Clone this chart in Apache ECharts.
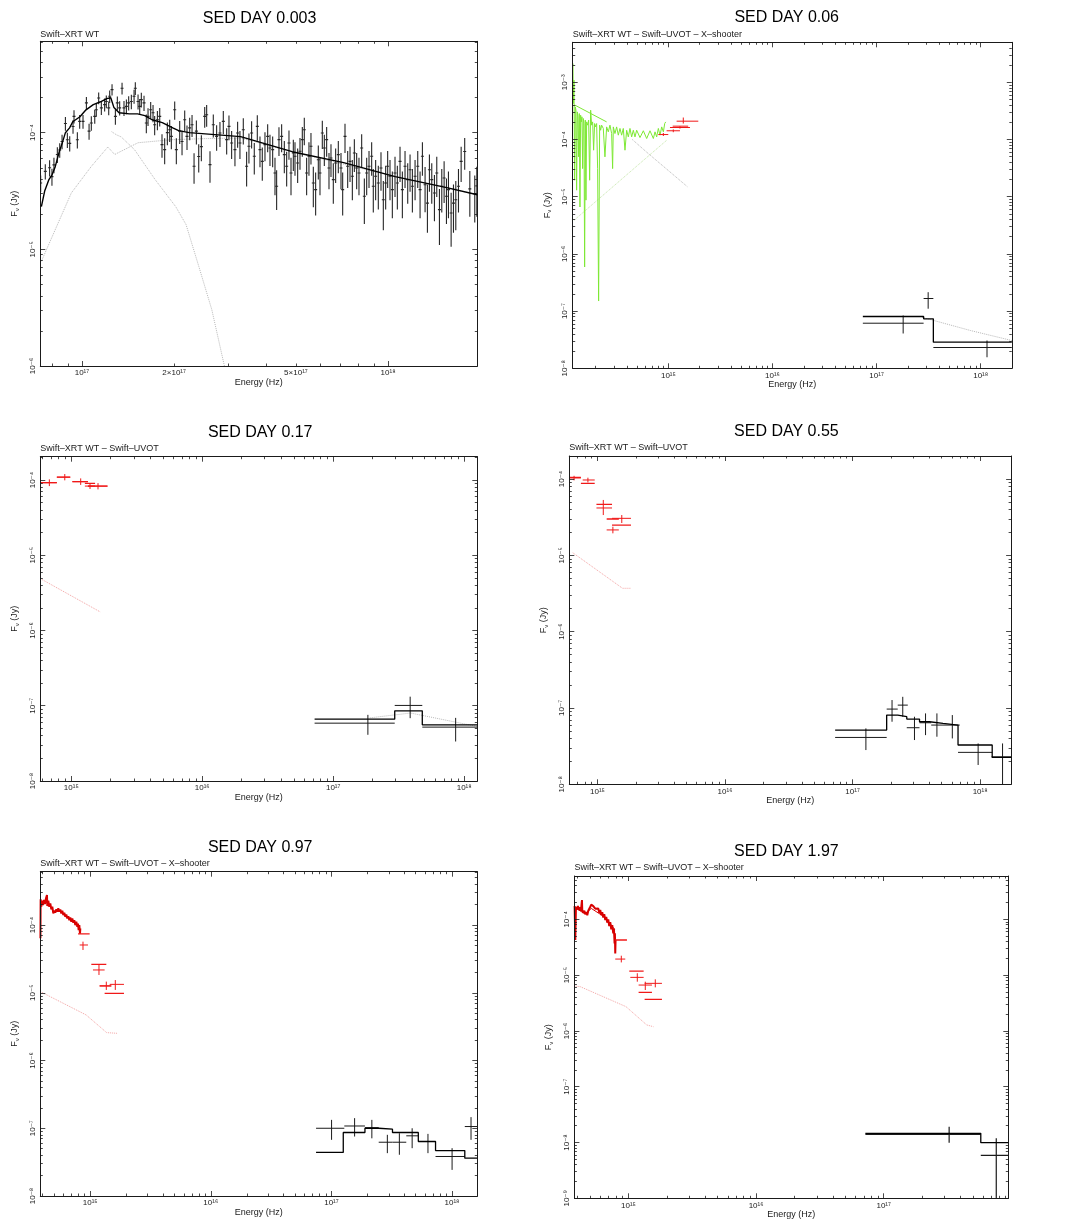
<!DOCTYPE html>
<html>
<head>
<meta charset="utf-8">
<title>SED</title>
<script src="https://cdn.jsdelivr.net/npm/echarts@6.0.0/dist/echarts.min.js"></script>
<style>
  html, body { margin: 0; padding: 0; background: #fff; }
  #sed { width: 1080px; height: 1230px; }
</style>
</head>
<body>
<div id="sed"></div>
<script>
// ---------- panel 1 : SED DAY 0.003 ----------
var p1XRange = [7.31e16, 1.957e18];
var p1YRange = [1e-6, 6.07e-4];
var p1XLabels = [1e17, 2e17, 5e17, 1e18];
var p1YLabels = [1e-6, 1e-5, 1e-4];
// XRT WT points: [nu, F, err]
var p1Points = [
  [7.33e16, 3.7e-5, 0.6e-5], [7.59e16, 4.66e-5, 0.7e-5], [7.84e16, 5.0e-5, 0.8e-5], [7.98e16, 4.2e-5, 0.7e-5],
  [8.10e16, 5.3e-5, 0.8e-5], [8.31e16, 6.5e-5, 1.0e-5], [8.46e16, 7.1e-5, 1.0e-5], [8.61e16, 8.4e-5, 1.2e-5],
  [8.83e16, 1.2e-4, 1.6e-5], [8.96e16, 8.7e-5, 1.3e-5], [9.12e16, 8.1e-5, 1.2e-5], [9.35e16, 1.13e-4, 1.5e-5],
  [9.42e16, 1.38e-4, 1.8e-5], [9.66e16, 8.7e-5, 1.4e-5], [9.83e16, 1.25e-4, 1.7e-5], [1.008e17, 1.25e-4, 1.7e-5],
  [1.034e17, 1.8e-4, 2.2e-5], [1.055e17, 1.03e-4, 1.6e-5], [1.073e17, 1.21e-4, 1.7e-5], [1.101e17, 1.38e-4, 1.9e-5],
  [1.114e17, 1.57e-4, 2.0e-5], [1.134e17, 1.98e-4, 2.3e-5], [1.157e17, 1.63e-4, 2.1e-5], [1.186e17, 1.74e-4, 2.2e-5],
  [1.201e17, 1.85e-4, 2.3e-5], [1.223e17, 1.63e-4, 2.2e-5], [1.232e17, 2.05e-4, 2.5e-5], [1.254e17, 2.34e-4, 2.6e-5],
  [1.286e17, 1.38e-4, 2.1e-5], [1.305e17, 1.8e-4, 2.4e-5], [1.328e17, 1.63e-4, 2.3e-5], [1.352e17, 2.4e-4, 2.8e-5],
  [1.372e17, 1.63e-4, 2.4e-5], [1.397e17, 1.68e-4, 2.4e-5], [1.421e17, 1.8e-4, 2.5e-5], [1.450e17, 1.85e-4, 2.6e-5],
  [1.480e17, 2.05e-4, 2.8e-5], [1.494e17, 2.4e-4, 3.0e-5], [1.525e17, 1.85e-4, 2.7e-5], [1.544e17, 1.68e-4, 2.6e-5],
  [1.563e17, 1.92e-4, 2.8e-5], [1.595e17, 1.8e-4, 2.7e-5], [1.623e17, 1.21e-4, 2.2e-5], [1.644e17, 1.38e-4, 2.4e-5],
  [1.677e17, 1.57e-4, 2.6e-5], [1.707e17, 1.48e-4, 2.5e-5], [1.728e17, 1.17e-4, 2.2e-5], [1.764e17, 1.29e-4, 2.4e-5],
  [1.795e17, 1.38e-4, 2.5e-5], [1.826e17, 7.9e-5, 1.8e-5], [1.863e17, 7.15e-5, 1.8e-5], [1.901e17, 1.0e-4, 2.2e-5],
  [1.935e17, 1.06e-4, 2.3e-5], [1.959e17, 9.3e-5, 2.1e-5], [2.009e17, 1.57e-4, 2.8e-5], [2.034e17, 7.15e-5, 1.8e-5],
  [2.086e17, 1.03e-4, 2.3e-5], [2.123e17, 8.4e-5, 2.0e-5], [2.166e17, 1.29e-4, 2.6e-5], [2.204e17, 9.3e-5, 2.2e-5],
  [2.249e17, 1.1e-4, 2.4e-5], [2.289e17, 1.17e-4, 2.5e-5], [2.324e17, 5.15e-5, 1.5e-5], [2.365e17, 1.03e-4, 2.4e-5],
  [2.407e17, 6.25e-5, 1.7e-5], [2.455e17, 7.6e-5, 1.9e-5], [2.518e17, 1.38e-4, 2.8e-5],
  [2.555e17, 1.425e-4, 3.0e-5], [2.620e17, 5.32e-5, 1.6e-5], [2.686e17, 1.17e-4, 2.6e-5], [2.754e17, 9.3e-5, 2.3e-5],
  [2.824e17, 9.93e-5, 2.4e-5], [2.896e17, 1.25e-4, 2.8e-5], [2.970e17, 8.71e-5, 2.2e-5], [3.022e17, 1.133e-4, 2.7e-5],
  [3.083e17, 8.15e-5, 2.2e-5], [3.161e17, 7.15e-5, 2.0e-5], [3.225e17, 9.93e-5, 2.5e-5], [3.282e17, 8.15e-5, 2.2e-5],
  [3.366e17, 1.06e-4, 2.7e-5], [3.451e17, 5.15e-5, 1.7e-5], [3.512e17, 7.64e-5, 2.2e-5], [3.583e17, 9.93e-5, 2.6e-5],
  [3.656e17, 6.27e-5, 1.9e-5], [3.740e17, 1.133e-4, 2.8e-5], [3.816e17, 7.15e-5, 2.1e-5], [3.883e17, 5.68e-5, 1.8e-5],
  [3.962e17, 7.9e-5, 2.2e-5], [4.043e17, 9.3e-5, 2.5e-5], [4.114e17, 7.38e-5, 2.2e-5], [4.198e17, 7.15e-5, 2.1e-5],
  [4.272e17, 4.51e-5, 1.6e-5], [4.325e17, 3.47e-5, 1.3e-5], [4.402e17, 8.71e-5, 2.4e-5], [4.491e17, 9.3e-5, 2.5e-5],
  [4.583e17, 6.48e-5, 2.0e-5], [4.664e17, 5.15e-5, 1.7e-5], [4.746e17, 8.15e-5, 2.3e-5], [4.819e17, 4.51e-5, 1.6e-5],
  [4.904e17, 6.7e-5, 2.0e-5], [4.966e17, 6.27e-5, 2.0e-5], [5.066e17, 5.5e-5, 1.8e-5], [5.156e17, 6.92e-5, 2.1e-5],
  [5.247e17, 8.71e-5, 2.5e-5], [5.326e17, 1.06e-4, 2.8e-5], [5.420e17, 4.51e-5, 1.6e-5], [5.516e17, 6.27e-5, 2.0e-5],
  [5.600e17, 7.64e-5, 2.3e-5], [5.700e17, 3.70e-5, 1.4e-5], [5.800e17, 3.25e-5, 1.3e-5], [5.918e17, 5.86e-5, 1.9e-5],
  [5.993e17, 4.51e-5, 1.6e-5], [6.099e17, 9.93e-5, 2.7e-5], [6.192e17, 7.38e-5, 2.2e-5], [6.301e17, 8.71e-5, 2.5e-5],
  [6.413e17, 4.98e-5, 1.7e-5], [6.510e17, 6.07e-5, 1.9e-5], [6.625e17, 3.96e-5, 1.5e-5], [6.742e17, 5.5e-5, 1.8e-5],
  [6.879e17, 6.48e-5, 2.0e-5], [7.019e17, 4.98e-5, 1.7e-5], [7.108e17, 3.25e-5, 1.3e-5], [7.234e17, 9.3e-5, 2.6e-5],
  [7.381e17, 5.15e-5, 1.8e-5], [7.512e17, 5.68e-5, 1.9e-5], [7.645e17, 4.23e-5, 1.6e-5], [7.761e17, 6.7e-5, 2.1e-5],
  [7.897e17, 4.98e-5, 1.7e-5], [8.036e17, 4.51e-5, 1.6e-5], [8.200e17, 7.38e-5, 2.3e-5], [8.367e17, 2.85e-5, 1.2e-5],
  [8.515e17, 4.51e-5, 1.6e-5], [8.666e17, 5.15e-5, 1.8e-5], [8.840e17, 6.27e-5, 2.0e-5], [8.950e17, 3.47e-5, 1.4e-5],
  [9.109e17, 4.23e-5, 1.6e-5], [9.294e17, 3.70e-5, 1.5e-5], [9.483e17, 4.98e-5, 1.8e-5], [9.651e17, 2.66e-5, 1.2e-5],
  [9.822e17, 3.70e-5, 1.5e-5], [9.971e17, 5.15e-5, 1.8e-5], [1.0148e18, 4.23e-5, 1.6e-5], [1.0328e18, 3.25e-5, 1.4e-5],
  [1.0538e18, 4.51e-5, 1.7e-5], [1.0725e18, 3.70e-5, 1.5e-5], [1.0943e18, 5.68e-5, 1.9e-5], [1.1137e18, 3.25e-5, 1.4e-5],
  [1.1363e18, 5.15e-5, 1.8e-5], [1.1595e18, 3.96e-5, 1.5e-5], [1.1800e18, 4.81e-5, 1.7e-5], [1.2009e18, 3.47e-5, 1.4e-5],
  [1.2254e18, 4.23e-5, 1.6e-5], [1.2503e18, 5.15e-5, 1.8e-5], [1.2724e18, 3.25e-5, 1.4e-5], [1.2950e18, 6.27e-5, 2.0e-5],
  [1.3213e18, 3.58e-5, 1.5e-5], [1.3447e18, 2.49e-5, 1.1e-5], [1.3651e18, 4.81e-5, 1.7e-5], [1.3893e18, 3.96e-5, 1.5e-5],
  [1.4176e18, 3.04e-5, 1.3e-5], [1.4427e18, 4.51e-5, 1.7e-5], [1.4720e18, 2.19e-5, 1.1e-5], [1.4981e18, 3.47e-5, 1.4e-5],
  [1.5247e18, 4.09e-5, 1.6e-5], [1.5517e18, 2.85e-5, 1.2e-5], [1.5752e18, 3.25e-5, 1.4e-5], [1.6072e18, 2.05e-5, 1.0e-5],
  [1.6358e18, 2.49e-5, 1.1e-5], [1.6647e18, 2.66e-5, 1.2e-5], [1.6986e18, 3.47e-5, 1.4e-5], [1.7331e18, 5.68e-5, 1.9e-5],
  [1.78e18, 6.9e-5, 2.1e-5], [1.85e18, 3.3e-5, 1.4e-5], [1.92e18, 3.0e-5, 1.3e-5], [1.95e18, 3.5e-5, 1.6e-5]
];
var p1Model = [
  [7.37e16, 2.32e-5], [7.56e16, 3.18e-5], [7.80e16, 3.96e-5], [7.99e16, 4.37e-5], [8.18e16, 5.11e-5],
  [8.43e16, 6.87e-5], [8.63e16, 8.21e-5], [8.83e16, 1.0e-4], [9.11e16, 1.10e-4], [9.33e16, 1.24e-4],
  [9.85e16, 1.37e-4], [1.031e17, 1.57e-4], [1.089e17, 1.74e-4], [1.15e17, 1.84e-4], [1.205e17, 1.96e-4],
  [1.242e17, 1.99e-4], [1.272e17, 1.64e-4], [1.322e17, 1.48e-4], [1.429e17, 1.45e-4], [1.52e17, 1.45e-4],
  [1.605e17, 1.40e-4], [1.694e17, 1.29e-4], [1.83e17, 1.22e-4], [1.98e17, 1.10e-4], [2.07e17, 1.04e-4],
  [2.24e17, 1.0e-4], [3.30e17, 9.24e-5], [4.86e17, 6.87e-5], [7.16e17, 5.53e-5], [1.055e18, 4.2e-5],
  [1.555e18, 3.38e-5], [1.957e18, 2.94e-5]
];
var p1Blackbody = [
  [1.25e17, 1.02e-4], [1.295e17, 9.6e-5], [1.343e17, 9.2e-5], [1.485e17, 7.15e-5], [1.734e17, 3.96e-5],
  [2.025e17, 2.32e-5], [2.188e17, 1.63e-5], [2.41e17, 7.1e-6], [2.656e17, 3.04e-6], [2.92e17, 1.0e-6]
];
var p1PowerLaw = [
  [7.37e16, 7.9e-6], [9.23e16, 3.04e-5], [1.073e17, 5.14e-5], [1.215e17, 7.54e-5], [1.279e17, 6.5e-5],
  [1.525e17, 8.2e-5], [1.959e17, 8.7e-5], [2.555e17, 8.9e-5], [3.30e17, 9.0e-5], [4.86e17, 6.87e-5],
  [1.055e18, 4.2e-5], [1.957e18, 2.94e-5]
];

// ---------- panel 2 : SED DAY 0.06 ----------
var p2XRange = [1.205e14, 1.99e18];
var p2YRange = [1e-8, 5.0e-3];
var p2XLabels = [1e15, 1e16, 1e17, 1e18];
var p2YLabels = [1e-8, 1e-7, 1e-6, 1e-5, 1e-4, 1e-3];
var p2Xshooter = [
  [1.212e14, 2.13e-3], [1.221e14, 4.25e-4], [1.239e14, 1.09e-3], [1.257e14, 1.94e-5], [1.276e14, 3.72e-4],
  [1.295e14, 3.25e-4], [1.314e14, 1.3e-5], [1.334e14, 3.04e-4], [1.354e14, 2.49e-4], [1.374e14, 4.97e-5],
  [1.394e14, 2.84e-4], [1.415e14, 6.6e-6], [1.436e14, 2.66e-4], [1.457e14, 2.03e-4], [1.479e14, 2.49e-4],
  [1.501e14, 3.1e-5], [1.523e14, 2.33e-4], [1.546e14, 1.9e-4], [1.569e14, 5.9e-7], [1.592e14, 2.18e-4],
  [1.616e14, 8.7e-6], [1.640e14, 2.03e-4], [1.677e14, 1.78e-4], [1.714e14, 2.18e-4], [1.753e14, 1.94e-5],
  [1.792e14, 3.25e-4], [1.832e14, 1.78e-4], [1.873e14, 2.03e-4], [1.914e14, 6.5e-5], [1.957e14, 1.9e-4],
  [2.001e14, 1.66e-4], [2.046e14, 1.9e-4], [2.091e14, 3.1e-5], [2.138e14, 1.5e-7], [2.186e14, 1.78e-4],
  [2.235e14, 1.45e-4], [2.284e14, 1.78e-4], [2.370e14, 1.56e-4], [2.459e14, 4.97e-5], [2.552e14, 1.66e-4],
  [2.648e14, 1.36e-4], [2.747e14, 1.78e-4], [2.851e14, 1.27e-4], [2.914e14, 3.1e-5], [2.958e14, 1.66e-4],
  [3.069e14, 1.27e-4], [3.184e14, 1.66e-4], [3.304e14, 1.19e-4], [3.428e14, 1.56e-4], [3.557e14, 1.19e-4],
  [3.691e14, 1.56e-4], [3.830e14, 6.5e-5], [3.974e14, 1.45e-4], [4.123e14, 1.11e-4], [4.278e14, 1.56e-4],
  [4.439e14, 1.11e-4], [4.606e14, 1.45e-4], [4.779e14, 1.11e-4], [4.959e14, 1.45e-4], [5.339e14, 1.08e-4],
  [5.748e14, 1.42e-4], [6.188e14, 1.04e-4], [6.662e14, 1.42e-4], [7.173e14, 1.04e-4], [7.442e14, 1.36e-4],
  [7.722e14, 1.11e-4], [8.013e14, 1.56e-4], [8.314e14, 1.19e-4], [8.627e14, 1.66e-4], [8.951e14, 1.36e-4],
  [9.222e14, 1.9e-4], [9.430e14, 2.03e-4]
];
var p2XshModel = [[1.267e14, 3.98e-4], [2.552e14, 2.03e-4]];
var p2Rise = [[1.248e14, 3.9e-6], [9.7e14, 9.8e-5]];
var p2Fall = [[4.5e14, 1.0e-4], [6.19e14, 6.0e-5], [1.52e15, 1.5e-5]];
var p2XrtComp = [[2.73e17, 7.8e-8], [7.96e17, 4.58e-8], [1.99e18, 3.06e-8]];
// crosses: [nu, nuLo, nuHi, F, FLo, FHi]
var p2Uvot = [
  [8.95e14, 8.01e14, 9.98e14, 1.22e-4, 1.15e-4, 1.30e-4],
  [1.115e15, 9.62e14, 1.292e15, 1.42e-4, 1.34e-4, 1.50e-4],
  [1.292e15, 1.036e15, 1.612e15, 1.62e-4, 1.55e-4, 1.70e-4],
  [1.391e15, 1.2e15, 1.938e15, 2.09e-4, 1.90e-4, 2.42e-4]
];
var p2UvotModel = [[1.1e15, 1.55e15, 1.71e-4]];
var p2Xrt = [
  [1.80e17, 7.38e16, 2.83e17, 6.14e-8, 4.06e-8, 8.38e-8],
  [3.13e17, 2.83e17, 3.51e17, 1.66e-7, 1.10e-7, 2.14e-7],
  [1.15e18, 3.51e17, 1.99e18, 2.31e-8, 1.56e-8, 3.06e-8]
];
var p2XrtEdges = [7.38e16, 2.83e17, 3.51e17, 1.99e18];
var p2XrtFlux = [8.05e-8, 7.33e-8, 2.86e-8];

// ---------- panel 3 : SED DAY 0.17 ----------
var p3XRange = [5.8e14, 1.26e18];
var p3YRange = [1e-8, 2.04e-4];
var p3XLabels = [1e15, 1e16, 1e17, 1e18];
var p3YLabels = [1e-8, 1e-7, 1e-6, 1e-5, 1e-4];
var p3Uvot = [
  [6.8e14, 5.8e14, 7.76e14, 9.2e-5, 8.3e-5, 1.02e-4],
  [8.92e14, 7.76e14, 9.82e14, 1.09e-4, 9.9e-5, 1.20e-4],
  [1.18e15, 1.02e15, 1.34e15, 9.5e-5, 8.6e-5, 1.05e-4],
  [1.39e15, 1.27e15, 1.52e15, 8.3e-5, 7.6e-5, 9.1e-5],
  [1.60e15, 1.34e15, 1.89e15, 8.3e-5, 7.5e-5, 9.1e-5]
];
var p3UvotModel = [[5.8e14, 7.76e14, 9.2e-5], [7.76e14, 9.82e14, 1.09e-4], [1.02e15, 1.34e15, 9.5e-5], [1.27e15, 1.52e15, 9.0e-5], [1.34e15, 1.89e15, 8.3e-5]];
var p3UvotComp = [[5.8e14, 4.9e-6], [1.66e15, 1.77e-6]];
var p3Xrt = [
  [1.84e17, 7.21e16, 2.95e17, 5.87e-8, 4.11e-8, 7.57e-8],
  [3.87e17, 2.95e17, 4.79e17, 1.01e-7, 6.84e-8, 1.32e-7],
  [8.61e17, 4.79e17, 1.26e18, 5.2e-8, 3.35e-8, 6.9e-8]
];
var p3XrtEdges = [7.21e16, 2.95e17, 4.79e17, 1.26e18];
var p3XrtFlux = [6.64e-8, 8.55e-8, 5.57e-8];
var p3XrtComp = [[1.9e17, 6.9e-8], [3.9e17, 8.0e-8], [1.26e18, 5.3e-8]];

// ---------- panel 4 : SED DAY 0.55 ----------
var p4XRange = [6.01e14, 1.75e18];
var p4YRange = [1e-8, 2.0e-4];
var p4XLabels = [1e15, 1e16, 1e17, 1e18];
var p4YLabels = [1e-8, 1e-7, 1e-6, 1e-5, 1e-4];
var p4Uvot = [
  [6.55e14, 6.01e14, 7.41e14, 1.03e-4, 9.6e-5, 1.10e-4],
  [8.41e14, 7.65e14, 9.51e14, 9.7e-5, 9.0e-5, 1.04e-4],
  [1.11e15, 9.81e14, 1.30e15, 4.17e-5, 3.37e-5, 5.31e-5],
  [1.32e15, 1.18e15, 1.47e15, 2.15e-5, 1.94e-5, 2.37e-5],
  [1.55e15, 1.30e15, 1.83e15, 3.05e-5, 2.65e-5, 3.37e-5]
];
var p4UvotModel = [[6.01e14, 7.41e14, 1.05e-4], [7.41e14, 9.51e14, 8.78e-5], [9.81e14, 1.30e15, 4.65e-5], [1.18e15, 1.47e15, 2.99e-5], [1.30e15, 1.83e15, 2.49e-5]];
var p4UvotComp = [[6.4e14, 1.08e-5], [1.57e15, 3.7e-6], [1.83e15, 3.7e-6]];
var p4Xrt = [
  [1.272e17, 7.3e16, 1.851e17, 4.11e-8, 2.81e-8, 5.4e-8],
  [2.039e17, 1.851e17, 2.26e17, 9.67e-8, 6.6e-8, 1.27e-7],
  [2.475e17, 2.26e17, 2.71e17, 1.09e-7, 7.68e-8, 1.40e-7],
  [3.058e17, 2.661e17, 3.349e17, 5.51e-8, 3.8e-8, 7.68e-8],
  [3.734e17, 3.349e17, 4.138e17, 6.4e-8, 4.41e-8, 8.49e-8],
  [4.585e17, 4.138e17, 5.115e17, 5.97e-8, 4.2e-8, 8.49e-8],
  [6.056e17, 5.115e17, 6.92e17, 5.97e-8, 3.99e-8, 8.07e-8],
  [9.65e17, 6.713e17, 1.244e18, 2.62e-8, 1.79e-8, 3.43e-8],
  [1.50e18, 1.23e18, 1.75e18, 2.29e-8, 5e-9, 3.43e-8]
];
var p4XrtEdges = [7.3e16, 1.851e17, 2.26e17, 2.661e17, 3.349e17, 4.015e17, 5.115e17, 6.713e17, 1.244e18, 1.75e18];
var p4XrtFlux = [5.13e-8, 8.07e-8, 7.68e-8, 7.15e-8, 6.6e-8, 6.28e-8, 5.97e-8, 3.27e-8, 2.25e-8];

// ---------- panel 5 : SED DAY 0.97 ----------
var p5XRange = [3.86e14, 1.62e18];
var p5YRange = [1e-8, 6.12e-4];
var p5XLabels = [1e15, 1e16, 1e17, 1e18];
var p5YLabels = [1e-8, 1e-7, 1e-6, 1e-5, 1e-4];
var p5Xshooter = [
  [3.87e14, 6.36e-5], [3.885e14, 2.39e-4], [3.935e14, 1.86e-4], [3.985e14, 2.29e-4], [4.062e14, 1.97e-4],
  [4.140e14, 2.34e-4], [4.220e14, 2.04e-4], [4.301e14, 2.47e-4], [4.384e14, 2.77e-4], [4.412e14, 1.91e-4],
  [4.497e14, 2.29e-4], [4.584e14, 1.86e-4], [4.672e14, 2.09e-4], [4.762e14, 1.70e-4], [4.854e14, 1.86e-4],
  [4.948e14, 1.48e-4], [5.043e14, 1.63e-4], [5.140e14, 1.52e-4], [5.239e14, 1.70e-4], [5.340e14, 1.57e-4],
  [5.443e14, 1.76e-4], [5.548e14, 1.57e-4], [5.655e14, 1.70e-4], [5.764e14, 1.48e-4], [5.875e14, 1.63e-4],
  [5.989e14, 1.40e-4], [6.104e14, 1.52e-4], [6.222e14, 1.32e-4], [6.342e14, 1.43e-4], [6.464e14, 1.25e-4],
  [6.589e14, 1.35e-4], [6.716e14, 1.18e-4], [6.845e14, 1.29e-4], [6.977e14, 1.12e-4], [7.112e14, 1.25e-4],
  [7.249e14, 1.08e-4], [7.388e14, 1.18e-4], [7.531e14, 9.94e-5], [7.676e14, 1.12e-4], [7.824e14, 9.39e-5],
  [7.925e14, 1.05e-4], [8.026e14, 8.37e-5], [8.129e14, 9.94e-5], [8.234e14, 7.46e-5], [8.286e14, 8.87e-5]
];
var p5Uvot = [
  [8.72e14, 8.18e14, 9.59e14, 5.07e-5, 4.28e-5, 5.68e-5],
  [1.183e15, 1.055e15, 1.318e15, 2.17e-5, 1.83e-5, 2.57e-5],
  [1.361e15, 1.198e15, 1.497e15, 1.26e-5, 1.10e-5, 1.46e-5],
  [1.616e15, 1.451e15, 1.907e15, 1.33e-5, 1.10e-5, 1.54e-5]
];
var p5UvotModel = [[7.925e14, 9.90e14, 7.38e-5], [1.022e15, 1.361e15, 2.63e-5], [1.198e15, 1.497e15, 1.26e-5], [1.318e15, 1.907e15, 9.82e-6]];
var p5UvotComp = [[3.86e14, 1.04e-5], [9.25e14, 4.71e-6], [1.37e15, 2.58e-6], [1.67e15, 2.52e-6]];
var p5Xrt = [
  [1.003e17, 7.46e16, 1.279e17, 1.0e-7, 6.75e-8, 1.33e-7],
  [1.557e17, 1.279e17, 1.897e17, 1.08e-7, 7.55e-8, 1.41e-7],
  [2.164e17, 1.897e17, 2.467e17, 1.02e-7, 7.1e-8, 1.33e-7],
  [2.909e17, 2.467e17, 3.209e17, 6.22e-8, 4.29e-8, 8.0e-8],
  [3.66e17, 3.209e17, 4.175e17, 6.22e-8, 4.06e-8, 8.45e-8],
  [4.67e17, 4.175e17, 5.254e17, 7.73e-8, 5.08e-8, 1.0e-7],
  [6.317e17, 5.254e17, 7.3e17, 6.37e-8, 4.29e-8, 8.26e-8],
  [1.001e18, 7.3e17, 1.276e18, 3.83e-8, 2.43e-8, 5.08e-8],
  [1.437e18, 1.276e18, 1.62e18, 1.06e-7, 6.75e-8, 1.46e-7]
];
var p5XrtEdges = [7.46e16, 1.254e17, 1.897e17, 2.467e17, 3.209e17, 5.254e17, 7.3e17, 1.276e18, 1.62e18];
var p5XrtFlux = [4.39e-8, 8.65e-8, 1.0e-7, 9.68e-8, 8.65e-8, 6.37e-8, 4.69e-8, 3.62e-8];

// ---------- panel 6 : SED DAY 1.97 ----------
var p6XRange = [3.77e14, 9.48e17];
var p6YRange = [1e-9, 5.98e-4];
var p6XLabels = [1e15, 1e16, 1e17];
var p6YLabels = [1e-9, 1e-8, 1e-7, 1e-6, 1e-5, 1e-4];
var p6Xshooter = [
  [3.785e14, 1.73e-4], [3.831e14, 4.26e-5], [3.877e14, 1.68e-4], [3.947e14, 1.51e-4], [4.019e14, 1.73e-4],
  [4.092e14, 1.47e-4], [4.167e14, 1.64e-4], [4.243e14, 1.43e-4], [4.320e14, 2.22e-4], [4.346e14, 1.43e-4],
  [4.425e14, 1.31e-4], [4.505e14, 1.43e-4], [4.587e14, 1.24e-4], [4.671e14, 1.35e-4], [4.756e14, 1.18e-4],
  [4.842e14, 1.43e-4], [4.930e14, 1.51e-4], [5.020e14, 1.68e-4], [5.111e14, 1.83e-4], [5.204e14, 1.93e-4],
  [5.299e14, 1.73e-4], [5.395e14, 1.83e-4], [5.494e14, 1.55e-4], [5.593e14, 1.68e-4], [5.695e14, 1.43e-4],
  [5.799e14, 1.57e-4], [5.904e14, 1.31e-4], [6.012e14, 1.47e-4], [6.121e14, 1.19e-4], [6.233e14, 1.35e-4],
  [6.346e14, 1.08e-4], [6.461e14, 1.24e-4], [6.579e14, 9.7e-5], [6.699e14, 1.11e-4], [6.820e14, 8.7e-5],
  [6.945e14, 9.97e-5], [7.071e14, 7.59e-5], [7.200e14, 8.94e-5], [7.331e14, 6.6e-5], [7.464e14, 7.91e-5],
  [7.600e14, 5.6e-5], [7.692e14, 6.87e-5], [7.785e14, 3.71e-5], [7.832e14, 5.6e-5], [7.879e14, 2.45e-5],
  [7.926e14, 4.26e-5]
];
var p6XshModel = [[3.785e14, 1.64e-4], [4.587e14, 1.24e-4], [5.111e14, 1.57e-4], [6.579e14, 1.08e-4], [7.785e14, 6.6e-5]];
var p6Uvot = [
  [8.79e14, 7.879e14, 9.44e14, 1.94e-5, 1.69e-5, 2.23e-5],
  [1.173e15, 1.034e15, 1.315e15, 9.12e-6, 7.63e-6, 1.08e-5],
  [1.355e15, 1.201e15, 1.528e15, 6.64e-6, 5.41e-6, 7.63e-6],
  [1.623e15, 1.339e15, 1.83e15, 7.12e-6, 6.04e-6, 8.40e-6]
];
var p6UvotModel = [[7.879e14, 9.73e14, 4.26e-5], [1.015e15, 1.315e15, 1.18e-5], [1.201e15, 1.528e15, 4.91e-6], [1.339e15, 1.83e15, 3.68e-6]];
var p6UvotComp = [[3.77e14, 6.4e-6], [4.19e14, 6.21e-6], [9.57e14, 2.72e-6], [1.39e15, 1.28e-6], [1.57e15, 1.19e-6]];
var p6Xrt = [
  [3.26e17, 7.19e16, 5.77e17, 1.40e-8, 9.95e-9, 1.92e-8],
  [7.63e17, 5.77e17, 9.48e17, 5.9e-9, 5e-10, 1.19e-8]
];
var p6XrtEdges = [7.19e16, 5.77e17, 9.48e17];
var p6XrtFlux = [1.46e-8, 9.95e-9];

var dayTitles = ['SED DAY 0.003', 'SED DAY 0.06', 'SED DAY 0.17', 'SED DAY 0.55', 'SED DAY 0.97', 'SED DAY 1.97'];
var instruments = [
  'Swift\u2013XRT WT',
  'Swift\u2013XRT WT \u2013 Swift\u2013UVOT \u2013 X\u2013shooter',
  'Swift\u2013XRT WT \u2013 Swift\u2013UVOT',
  'Swift\u2013XRT WT \u2013 Swift\u2013UVOT',
  'Swift\u2013XRT WT \u2013 Swift\u2013UVOT \u2013 X\u2013shooter',
  'Swift\u2013XRT WT \u2013 Swift\u2013UVOT \u2013 X\u2013shooter'
];

// ---------- layout & styles ----------
var FONT = '"Liberation Sans", Arial, "DejaVu Sans", sans-serif';
var INK = '#1a1a1a';
var RED = '#f01818';
var XSH_RED = '#d80000';
var GREEN = '#7ee835';
var DOT_GREY = '#b8b8b8';
var DOT_RED = '#f4a4a4';

var boxes = [
  {left: 40.3, top: 41.3, width: 437, height: 324.7},
  {left: 572.7, top: 42.3, width: 439.1, height: 326},
  {left: 40.3, top: 456.7, width: 437, height: 324.3},
  {left: 569.3, top: 456, width: 441.8, height: 328.3},
  {left: 40.3, top: 871.7, width: 437, height: 324.3},
  {left: 574.4, top: 876, width: 433.9, height: 322.3}
];
var titlePos = [[259.6, 11], [786.7, 10], [260.2, 425], [786.4, 424], [260.2, 840], [786.4, 844]];
var subPos = [[40.3, 30], [572.7, 30], [40.3, 444], [569.3, 443], [40.3, 859], [574.4, 863]];

var SUP = {'-': '\u207b', '0': '\u2070', '1': '\u00b9', '2': '\u00b2', '3': '\u00b3', '4': '\u2074',
           '5': '\u2075', '6': '\u2076', '7': '\u2077', '8': '\u2078', '9': '\u2079'};
function sciLabel(v) {
  var e = Math.floor(Math.log10(v) + 1e-9);
  var m = Math.round(v / Math.pow(10, e));
  var s = String(e).split('').map(function (c) { return SUP[c]; }).join('');
  return (m === 1 ? '' : m + '\u00d7') + '10' + s;
}

function logTicks(r) {
  var major = [], minor = [];
  for (var e = Math.floor(Math.log10(r[0])); e <= Math.ceil(Math.log10(r[1])); e++) {
    for (var m = 1; m < 10; m++) {
      var v = m * Math.pow(10, e);
      if (v >= r[0] && v <= r[1]) (m === 1 ? major : minor).push(v);
    }
  }
  return [major, minor];
}

// 4 axes per side pair: main (labels), opposite side, and two minor-tick axes
function axisSet(gi, dim, range, labels) {
  var ticks = logTicks(range), out = [];
  var sides = dim === 'x' ? ['bottom', 'top'] : ['left', 'right'];
  sides.forEach(function (pos, s) {
    ticks.forEach(function (vals, k) {
      var ax = {
        type: 'log', logBase: 10, gridIndex: gi, min: range[0], max: range[1], position: pos,
        axisLine: {show: k === 0, onZero: false, lineStyle: {color: INK, width: 1}},
        axisTick: {show: true, inside: true, length: k === 0 ? 5 : 2.5, customValues: vals,
                   lineStyle: {color: INK, width: 0.8}},
        axisLabel: {show: false},
        splitLine: {show: false}, minorTick: {show: false}, minorSplitLine: {show: false},
        axisPointer: {show: false}, z: 4
      };
      if (s === 0 && k === 0) {
        ax.axisLabel = {show: true, customValues: labels, formatter: sciLabel, fontSize: 8,
                        color: INK, fontFamily: FONT, margin: dim === 'x' ? 3 : 4, rotate: dim === 'x' ? 0 : 90};
        if (dim === 'x') {
          ax.name = 'Energy (Hz)';
          ax.nameLocation = 'middle';
          ax.nameGap = 12;
          ax.nameTextStyle = {fontSize: 9, color: INK, fontFamily: FONT};
        } else {
          ax.name = '{a|F}{b|\u03bd}{a| (Jy)}';
          ax.nameLocation = 'middle';
          ax.nameRotate = 90;
          ax.nameGap = 20;
          ax.nameTextStyle = {color: INK, fontFamily: FONT,
            rich: {a: {fontSize: 9, color: INK, fontFamily: FONT, lineHeight: 11},
                   b: {fontSize: 6, color: INK, fontFamily: FONT, verticalAlign: 'bottom'}}};
        }
      }
      out.push(ax);
    });
  });
  return out;
}

var series = [];
function base(gi) { return {xAxisIndex: gi * 4, yAxisIndex: gi * 4, silent: true, animation: false}; }
function curve(gi, data, color, width, dash, z) {
  series.push(Object.assign(base(gi), {type: 'line', data: data, symbol: 'none', z: z || 2,
    lineStyle: {color: color, width: width, type: dash || 'solid'}}));
}
function steps(gi, edges, flux, color, width) {
  var pts = flux.map(function (f, i) { return [edges[i], f]; });
  pts.push([edges[edges.length - 1], flux[flux.length - 1]]);
  series.push(Object.assign(base(gi), {type: 'line', step: 'end', data: pts, symbol: 'none', z: 5,
    lineStyle: {color: color, width: width}}));
}
function crosses(gi, data, color, width) {
  series.push(Object.assign(base(gi), {type: 'custom', data: data, clip: true, z: 4,
    renderItem: function (params, api) {
      var f = api.value(3), nu = api.value(0);
      var a = api.coord([api.value(1), f]), b = api.coord([api.value(2), f]);
      var c = api.coord([nu, api.value(4)]), d = api.coord([nu, api.value(5)]);
      var st = {stroke: color, lineWidth: width};
      return {type: 'group', children: [
        {type: 'line', shape: {x1: a[0], y1: a[1], x2: b[0], y2: b[1]}, style: st},
        {type: 'line', shape: {x1: c[0], y1: c[1], x2: d[0], y2: d[1]}, style: st}
      ]};
    }}));
}
function hbars(gi, data, color, width) {
  series.push(Object.assign(base(gi), {type: 'custom', data: data, clip: true, z: 4,
    renderItem: function (params, api) {
      var a = api.coord([api.value(0), api.value(2)]), b = api.coord([api.value(1), api.value(2)]);
      return {type: 'line', shape: {x1: a[0], y1: a[1], x2: b[0], y2: b[1]},
              style: {stroke: color, lineWidth: width}};
    }}));
}
function errPoints(gi, data, color) {
  series.push(Object.assign(base(gi), {type: 'custom', data: data, clip: true, z: 3,
    renderItem: function (params, api) {
      var nu = api.value(0), f = api.value(1), e = api.value(2);
      var p = api.coord([nu, f]), t = api.coord([nu, f + e]), b = api.coord([nu, f - e]);
      var st = {stroke: color, lineWidth: 1.1};
      return {type: 'group', children: [
        {type: 'line', shape: {x1: p[0], y1: t[1], x2: p[0], y2: b[1]}, style: st},
        {type: 'line', shape: {x1: p[0] - 1.5, y1: p[1], x2: p[0] + 1.5, y2: p[1]}, style: st}
      ]};
    }}));
}

// panel 1
curve(0, p1Blackbody, DOT_GREY, 1, 'dotted', 1);
curve(0, p1PowerLaw, DOT_GREY, 1, 'dotted', 1);
errPoints(0, p1Points, '#262626');
curve(0, p1Model, '#000', 1.4, 'solid', 5);
// panel 2
curve(1, p2Rise, '#c4e6a8', 1, 'dotted', 1);
curve(1, p2Fall, DOT_GREY, 1, 'dotted', 1);
curve(1, p2XrtComp, DOT_GREY, 1, 'dotted', 1);
curve(1, p2Xshooter, GREEN, 1, 'solid', 2);
curve(1, p2XshModel, GREEN, 1, 'solid', 2);
crosses(1, p2Uvot, RED, 1);
hbars(1, p2UvotModel, RED, 1);
crosses(1, p2Xrt, INK, 1);
steps(1, p2XrtEdges, p2XrtFlux, '#000', 1.3);
// panel 3
curve(2, p3UvotComp, DOT_RED, 1, 'dotted', 1);
curve(2, p3XrtComp, DOT_GREY, 1, 'dotted', 1);
crosses(2, p3Uvot, RED, 1);
hbars(2, p3UvotModel, RED, 1.3);
crosses(2, p3Xrt, INK, 1);
steps(2, p3XrtEdges, p3XrtFlux, '#000', 1.3);
// panel 4
curve(3, p4UvotComp, DOT_RED, 1, 'dotted', 1);
crosses(3, p4Uvot, RED, 1);
hbars(3, p4UvotModel, RED, 1.3);
crosses(3, p4Xrt, INK, 1);
steps(3, p4XrtEdges, p4XrtFlux, '#000', 1.3);
// panel 5
curve(4, p5UvotComp, DOT_RED, 1, 'dotted', 1);
curve(4, p5Xshooter, XSH_RED, 2, 'solid', 2);
crosses(4, p5Uvot, RED, 1);
hbars(4, p5UvotModel, RED, 1.3);
crosses(4, p5Xrt, INK, 1);
steps(4, p5XrtEdges, p5XrtFlux, '#000', 1.3);
// panel 6
curve(5, p6UvotComp, DOT_RED, 1, 'dotted', 1);
curve(5, p6Xshooter, XSH_RED, 2, 'solid', 2);
curve(5, p6XshModel, XSH_RED, 1, 'solid', 3);
crosses(5, p6Uvot, RED, 1);
hbars(5, p6UvotModel, RED, 1.3);
crosses(5, p6Xrt, INK, 1.2);
steps(5, p6XrtEdges, p6XrtFlux, '#000', 1.3);

var ranges = [
  [p1XRange, p1YRange, p1XLabels, p1YLabels],
  [p2XRange, p2YRange, p2XLabels, p2YLabels],
  [p3XRange, p3YRange, p3XLabels, p3YLabels],
  [p4XRange, p4YRange, p4XLabels, p4YLabels],
  [p5XRange, p5YRange, p5XLabels, p5YLabels],
  [p6XRange, p6YRange, p6XLabels, p6YLabels]
];
var xAxes = [], yAxes = [], grids = [], titles = [];
ranges.forEach(function (r, gi) {
  grids.push(Object.assign({show: false, containLabel: false, outerBoundsMode: 'none'}, boxes[gi]));
  xAxes = xAxes.concat(axisSet(gi, 'x', r[0], r[2]));
  yAxes = yAxes.concat(axisSet(gi, 'y', r[1], r[3]));
  titles.push({text: dayTitles[gi], left: titlePos[gi][0], top: titlePos[gi][1], textAlign: 'center', padding: 0,
    textStyle: {fontSize: 16, fontWeight: 'normal', color: '#000', fontFamily: FONT}});
  titles.push({text: instruments[gi], left: subPos[gi][0], top: subPos[gi][1], textAlign: 'left', padding: 0,
    textStyle: {fontSize: 9, fontWeight: 'normal', color: INK, fontFamily: FONT}});
});

var chart = echarts.init(document.getElementById('sed'), null, {renderer: 'canvas'});
chart.setOption({
  animation: false,
  backgroundColor: '#fff',
  textStyle: {fontFamily: FONT},
  title: titles,
  grid: grids,
  xAxis: xAxes,
  yAxis: yAxes,
  series: series
});
</script>
</body>
</html>
